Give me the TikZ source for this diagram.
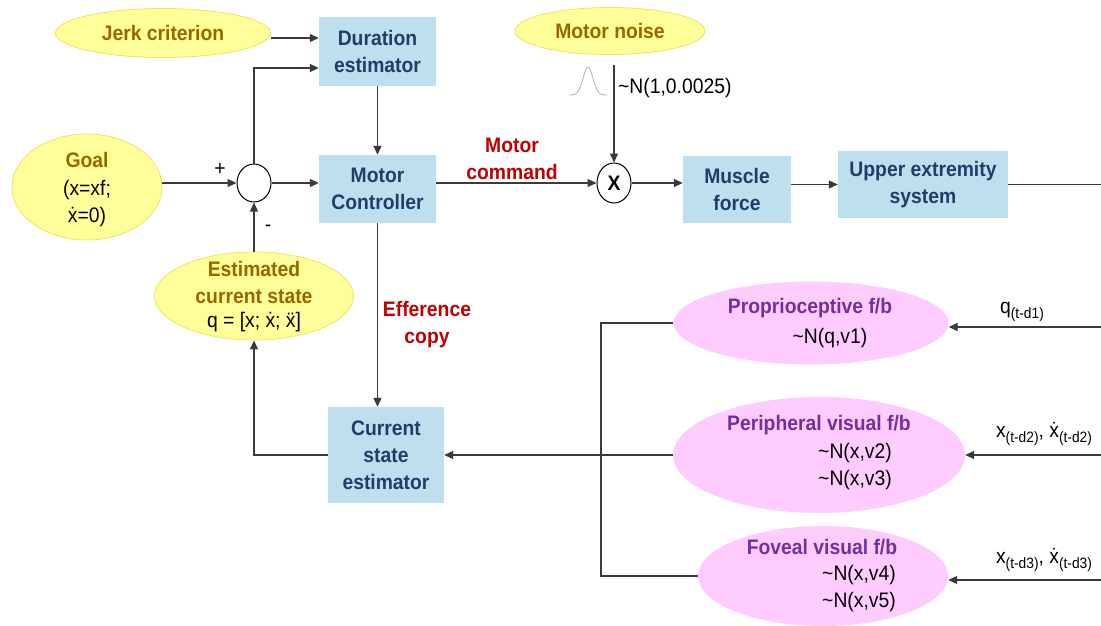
\documentclass[tikz,border=0pt]{standalone}
\usepackage{fontspec}
\setmainfont{Liberation Sans}[FakeStretch=0.92]
\usetikzlibrary{shapes.geometric,arrows.meta,calc}

\definecolor{boxblue}{HTML}{BDDFEE}
\definecolor{boxtext}{HTML}{1F3F6A}
\definecolor{yfill}{HTML}{FFFF99}
\definecolor{yline}{HTML}{EEE45A}
\definecolor{ytext}{HTML}{996600}
\definecolor{pfill}{HTML}{FFCCFF}
\definecolor{ptext}{HTML}{7030A0}
\definecolor{redtext}{HTML}{C00000}
\definecolor{wirecol}{HTML}{3A3A3A}

\newcommand{\bigfont}{\fontsize{21}{27}\selectfont}
\newcommand{\subfont}{\fontsize{15}{15}\selectfont}
\newcommand{\lagsub}[1]{\raisebox{-5pt}{\subfont(t-#1)}}

\tikzset{
  x=1pt, y=-1pt,
  txt/.style={font=\bigfont, align=center, inner sep=0pt},
  bold/.style={txt, font=\bfseries\bigfont},
  blk/.style={rectangle, fill=boxblue, draw=none, font=\bfseries\bigfont,
              text=boxtext, align=center, inner sep=0pt},
  yell/.style={ellipse, fill=yfill, draw=yline, line width=0.8pt, inner sep=0pt},
  pink/.style={ellipse, fill=pfill, draw=none, inner sep=0pt},
  junction/.style={ellipse, fill=white, draw=black, line width=1pt, inner sep=0pt},
  wire/.style={draw=wirecol, line width=1.2pt},
  arr/.style={wire, -{Triangle[length=9pt,width=8pt]}},
}

\begin{document}
\begin{tikzpicture}
\useasboundingbox (0,0) rectangle (1101,626);

% ---------- forward path ----------
\node[yell, minimum width=215pt, minimum height=49pt, font=\bfseries\bigfont, text=ytext] (jerk) at (163,33) {Jerk criterion};
\node[blk, minimum width=117pt, minimum height=69pt] (dur) at (377.5,51.5) {Duration\\estimator};

\node[yell, minimum width=150pt, minimum height=106pt] (goal) at (87,187) {};
\node[bold, text=ytext] (goaltitle) at (87,160) {Goal};
\node[txt] (goalval) at (87,204) {(x=xf;\\\.{x}=0)};

\node[junction, minimum width=34pt, minimum height=38pt] (sum) at (254,183) {};
\node[txt] (plus) at (220,169) {+};
\node[txt] (minus) at (268,228) {-};

\node[blk, minimum width=117pt, minimum height=68pt] (mc) at (377.5,189) {Motor\\Controller};

\node[yell, minimum width=190pt, minimum height=47pt, font=\bfseries\bigfont, text=ytext] (noise) at (610,31) {Motor noise};
\draw[black!30, line width=0.8pt] plot[domain=-19:19, samples=50] ({588+\x}, {95-28*exp(-(\x/7)^2)});
\node[txt, anchor=west] (noisedist) at (618,88) {\textasciitilde N(1,0.0025)};

\node[junction, minimum width=34pt, minimum height=40pt, font=\bfseries\bigfont] (mult) at (614,183) {X};
\node[bold, text=redtext] (mcmd) at (512,159) {Motor\\command};

\node[blk, minimum width=108pt, minimum height=67pt] (mus) at (737,189.5) {Muscle\\force};
\node[blk, minimum width=170pt, minimum height=67pt] (ues) at (923,184.5) {Upper extremity\\system};

% ---------- state estimation ----------
\node[yell, minimum width=199pt, minimum height=88pt] (est) at (254,296) {};
\node[bold, text=ytext] (esttitle) at (254,282) {Estimated\\current state};
\node[txt] (estval) at (254,322) {q = [x; \.{x}; \"{x}]};

\node[bold, text=redtext] (eff) at (427,325) {Efference\\copy};

\node[blk, minimum width=116pt, minimum height=96pt] (cse) at (386,455) {Current\\state\\estimator};

% ---------- sensory feedback ----------
\node[pink, minimum width=275pt, minimum height=83pt] (prop) at (811,323) {};
\node[bold, text=ptext] (proptitle) at (810,308) {Proprioceptive f/b};
\node[txt] (propval) at (830,338) {\textasciitilde N(q,v1)};

\node[pink, minimum width=292pt, minimum height=116pt] (peri) at (819,455) {};
\node[bold, text=ptext] (perititle) at (819,425) {Peripheral visual f/b};
\node[txt] (perival) at (855,467) {\textasciitilde N(x,v2)\\\textasciitilde N(x,v3)};

\node[pink, minimum width=250pt, minimum height=100pt] (fov) at (823,576) {};
\node[bold, text=ptext] (fovtitle) at (822,547) {Foveal visual f/b};
\node[txt] (fovval) at (859,589) {\textasciitilde N(x,v4)\\\textasciitilde N(x,v5)};

\node[txt] (lab1) at (1022,312) {q\lagsub{d1}};
\node[txt] (lab2) at (1044,434) {x\lagsub{d2}, \.{x}\lagsub{d2}};
\node[txt] (lab3) at (1044,560) {x\lagsub{d3}, \.{x}\lagsub{d3}};

% ---------- connectors ----------
\coordinate (j1) at ($(jerk.east)+(0,5)$);
\draw[arr] (j1) -- (dur.west |- j1);
\draw[arr] (goal.east |- sum.west) -- (sum.west);
\draw[arr] (sum.north) |- ($(dur.west)+(0,16.5)$);
\draw[arr] (dur.south) -- (mc.north);
\draw[arr] (sum.east) -- (mc.west |- sum.east);
\draw[arr] (mc.east |- mult.west) -- (mult.west);
\coordinate (ntop) at (614,65);
\draw[arr] (ntop) -- (mult.north);
\draw[arr] (mult.east) -- (mus.west |- mult.east);
\draw[arr] (mus.east |- ues.west) -- (ues.west);
\coordinate (rout) at (1101,184.5);
\draw[wire] (ues.east) -- (rout);

\draw[arr] (est.north) -- (sum.south);
\draw[arr] (cse.west) -| (est.south);
\draw[arr] (mc.south) -- (mc.south |- cse.north);

\coordinate (bx) at (601,0);
\draw[wire] (prop.west) -- (prop.west -| bx) -- (fov.west -| bx) -- (fov.west);
\draw[arr] (peri.west) -- (cse.east |- peri.west);

\coordinate (r1) at (1101,327);
\coordinate (r2) at (1101,455);
\coordinate (r3) at (1101,580);
\draw[arr] (r1) -- (prop.east |- r1);
\draw[arr] (r2) -- (peri.east |- r2);
\draw[arr] (r3) -- (fov.east |- r3);
\end{tikzpicture}
\end{document}
